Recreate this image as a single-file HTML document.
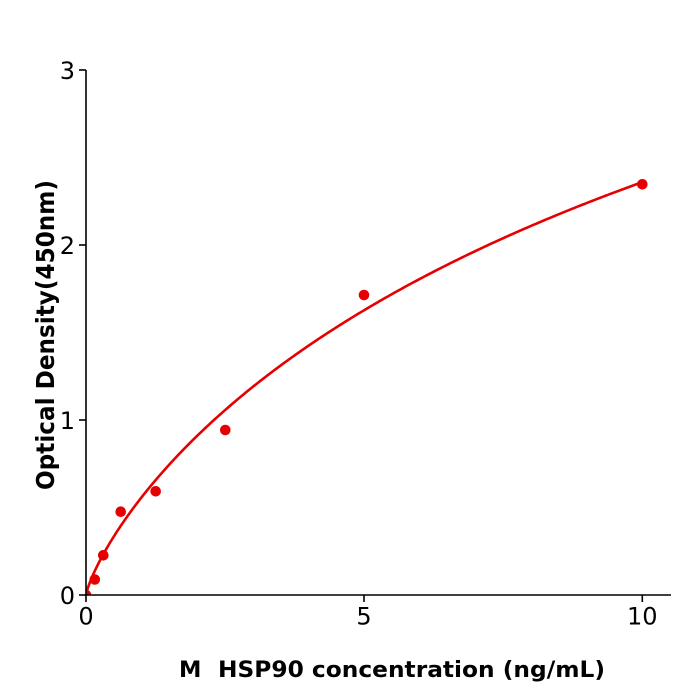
<!DOCTYPE html>
<html>
<head>
<meta charset="utf-8">
<style>
html,body{margin:0;padding:0;background:#fff;}
svg{display:block;}
</style>
</head>
<body>
<svg id="s" width="700" height="700" viewBox="0 0 700 700" xmlns="http://www.w3.org/2000/svg">
<defs>
<clipPath id="clip"><rect x="86" y="20" width="600" height="575"/></clipPath>
</defs>
<rect width="700" height="700" fill="#fff"/>
<g clip-path="url(#clip)">
<path id="curve" d="" fill="none" stroke="#e60000" stroke-width="2.6" stroke-linejoin="round"/>
<g fill="#e60000">
<circle cx="86" cy="595" r="5.3"/>
<circle cx="94.8" cy="579.5" r="5.3"/>
<circle cx="103.3" cy="555.3" r="5.3"/>
<circle cx="120.7" cy="511.7" r="5.3"/>
<circle cx="155.7" cy="491.3" r="5.3"/>
<circle cx="225.3" cy="430" r="5.3"/>
<circle cx="364" cy="295" r="5.3"/>
<circle cx="642.3" cy="184.3" r="5.3"/>
</g>
</g>
<g stroke="#000" stroke-width="1.6" fill="none">
<line x1="86" y1="70" x2="86" y2="595.8"/>
<line x1="85.2" y1="595" x2="671" y2="595"/>
<line x1="79" y1="70" x2="86" y2="70"/>
<line x1="79" y1="245" x2="86" y2="245"/>
<line x1="79" y1="420" x2="86" y2="420"/>
<line x1="79" y1="595" x2="86" y2="595"/>
<line x1="86" y1="595" x2="86" y2="602"/>
<line x1="364" y1="595" x2="364" y2="602"/>
<line x1="642.3" y1="595" x2="642.3" y2="602"/>
</g>
<g font-family="DejaVu Sans, Liberation Sans, sans-serif" font-size="24" fill="#000">
<text x="75" y="79" text-anchor="end">3</text>
<text x="75" y="254" text-anchor="end">2</text>
<text x="75" y="429" text-anchor="end">1</text>
<text x="75" y="604" text-anchor="end">0</text>
<text x="86" y="624.5" text-anchor="middle">0</text>
<text x="364" y="624.5" text-anchor="middle">5</text>
<text x="642.3" y="624.5" text-anchor="middle">10</text>
</g>
<g font-family="DejaVu Sans, Liberation Sans, sans-serif" font-weight="bold" fill="#000">
<text x="179" y="677" font-size="22.5">M</text>
<text x="218" y="677" font-size="22.5" textLength="387" lengthAdjust="spacingAndGlyphs">HSP90 concentration (ng/mL)</text>
<text transform="translate(54,335) rotate(-90)" font-size="25" text-anchor="middle" textLength="310" lengthAdjust="spacingAndGlyphs">Optical Density(450nm)</text>
</g>
</svg>
<script>
(function(){
  var x0=86, sx=55.63, y0=595, sy=175;
  var d=6, c=17.2, b=0.8;
  var pts=[];
  for(var i=0;i<=300;i++){
    var x=10*i/300;
    var t=Math.pow(x/c,b);
    var y=d*t/(1+t);
    pts.push((x0+x*sx).toFixed(2)+","+(y0-y*sy).toFixed(2));
  }
  document.getElementById("curve").setAttribute("d","M"+pts.join(" L"));
})();
</script>
</body>
</html>
